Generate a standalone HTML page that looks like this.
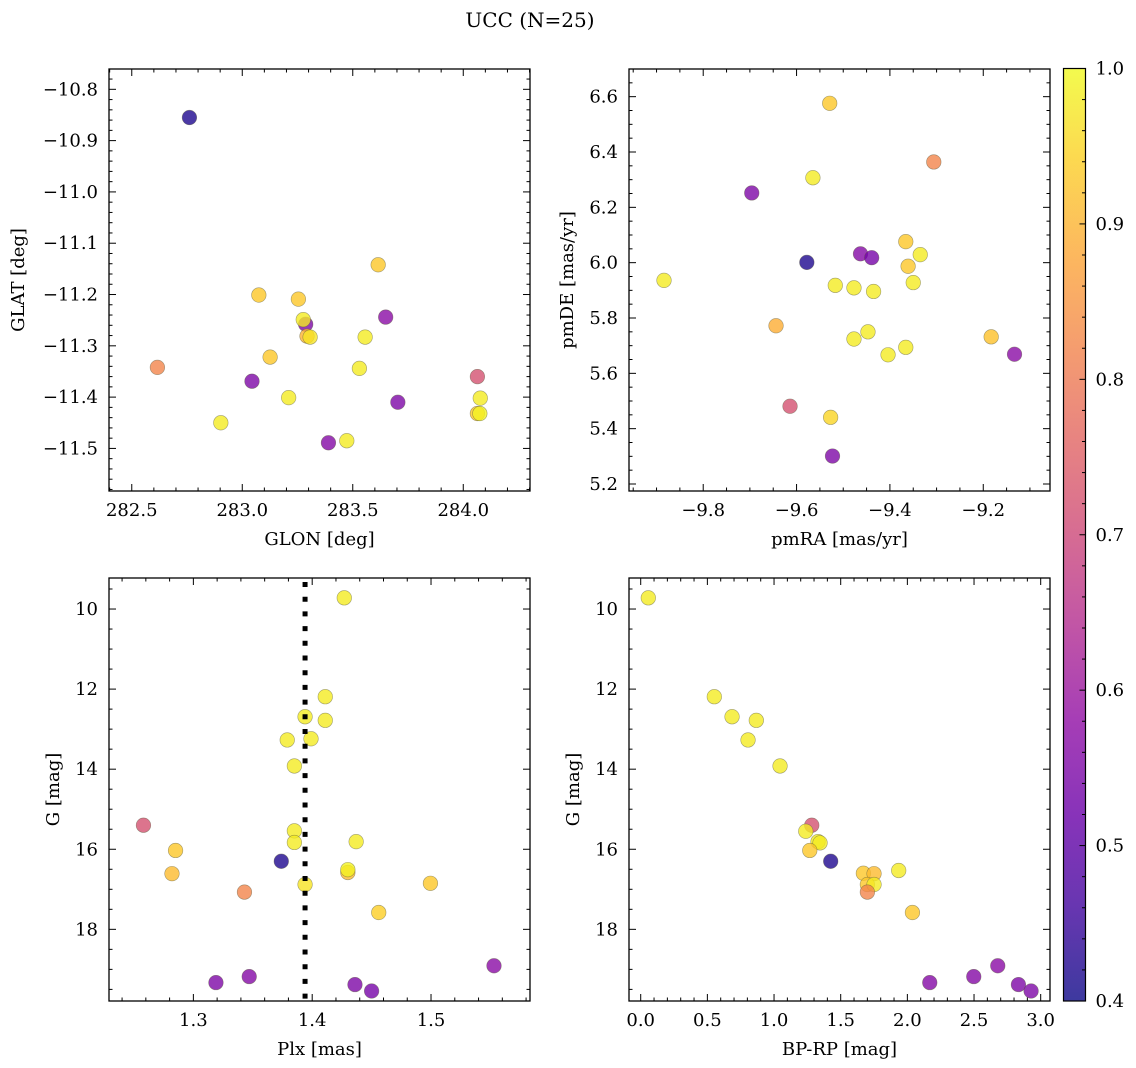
<!DOCTYPE html>
<html><head><meta charset="utf-8">
<style>
html,body{margin:0;padding:0;background:#fff;}
svg{display:block;font-family:"DejaVu Serif","Liberation Serif",serif;}
</style></head>
<body>
<svg id="fig" width="1136" height="1068" viewBox="0 0 1136 1068" xmlns="http://www.w3.org/2000/svg">
<rect x="0" y="0" width="1136" height="1068" fill="#fff"/>
<text x="530" y="27" font-size="20" text-anchor="middle" fill="#000">UCC (N=25)</text>
<defs>
<linearGradient id="plasmaGrad" x1="0" y1="1" x2="0" y2="0"></linearGradient>
</defs>
</svg>
<script>
// ---- Panel 1: GLON vs GLAT ----
const glonVals=[282.761,282.616,283.044,282.903,283.126,283.075,283.254,283.287,283.276,283.293,283.307,283.210,283.390,283.473,283.530,283.556,283.615,283.649,283.704,284.064,284.077,284.064,284.075];
const glatVals=[-10.855,-11.342,-11.369,-11.450,-11.322,-11.201,-11.209,-11.258,-11.249,-11.281,-11.283,-11.401,-11.489,-11.485,-11.344,-11.283,-11.142,-11.244,-11.410,-11.360,-11.402,-11.432,-11.432];
const probA=[0.42,0.82,0.55,0.98,0.93,0.93,0.93,0.55,0.98,0.9,0.97,0.98,0.56,0.98,0.98,0.98,0.93,0.57,0.55,0.72,0.98,0.93,0.99];
// ---- Panel 2: pmRA vs pmDE ----
const pmraVals=[-9.529,-9.306,-9.565,-9.696,-9.366,-9.335,-9.463,-9.439,-9.578,-9.361,-9.884,-9.350,-9.517,-9.477,-9.435,-9.644,-9.447,-9.477,-9.183,-9.366,-9.133,-9.404,-9.614,-9.527,-9.523];
const pmdeVals=[6.576,6.364,6.307,6.252,6.076,6.029,6.032,6.018,6.001,5.987,5.936,5.928,5.918,5.909,5.896,5.772,5.750,5.724,5.732,5.694,5.669,5.667,5.481,5.441,5.301];
const probB=[0.93,0.82,0.98,0.55,0.93,0.98,0.56,0.54,0.42,0.93,0.98,0.98,0.98,0.98,0.98,0.89,0.98,0.98,0.92,0.98,0.57,0.98,0.72,0.95,0.55];
// ---- Panel 3: Plx vs G ----
const plxVals=[1.427,1.411,1.394,1.411,1.379,1.399,1.385,1.258,1.385,1.385,1.437,1.285,1.374,1.430,1.430,1.282,1.394,1.4995,1.343,1.456,1.553,1.347,1.319,1.436,1.450];
const gVals3=[9.72,12.19,12.69,12.78,13.27,13.24,13.92,15.40,15.54,15.83,15.81,16.03,16.30,16.58,16.51,16.61,16.88,16.85,17.07,17.58,18.91,19.18,19.33,19.38,19.54];
const probC=[0.98,0.98,0.98,0.98,0.98,0.98,0.98,0.72,0.98,0.98,0.98,0.93,0.42,0.91,0.99,0.91,0.97,0.93,0.82,0.94,0.57,0.56,0.55,0.55,0.54];
const plxMean=[1.394];
// ---- Panel 4: BP-RP vs G ----
const bprpVals=[0.057,0.552,0.685,0.867,0.805,1.045,1.283,1.238,1.330,1.345,1.268,1.425,1.670,1.750,1.935,1.700,1.750,1.700,2.038,2.168,2.498,2.678,2.833,2.928];
const gVals4=[9.72,12.19,12.69,12.78,13.27,13.92,15.40,15.55,15.81,15.84,16.03,16.30,16.60,16.61,16.53,16.88,16.88,17.07,17.58,19.33,19.18,18.91,19.38,19.54];
const probD=[0.98,0.98,0.98,0.98,0.98,0.98,0.72,0.98,0.98,0.98,0.93,0.42,0.93,0.91,0.98,0.93,0.98,0.82,0.93,0.56,0.56,0.57,0.55,0.55];
// ---- tick labels ----
const ticksA_x=[282.5,283.0,283.5,284.0];
const ticksA_y=[-10.8,-10.9,-11.0,-11.1,-11.2,-11.3,-11.4,-11.5];
const ticksB_x=[-9.8,-9.6,-9.4,-9.2];
const ticksB_y=[5.2,5.4,5.6,5.8,6.0,6.2,6.4,6.6];
const ticksC_x=[1.3,1.4,1.5];
const ticksG=[10,12,14,16,18];
const ticksD_x=[0.0,0.5,1.0,1.5,2.0,2.5,3.0];
const ticksCbar=[0.4,0.5,0.6,0.7,0.8,0.9,1.0];

const NS="http://www.w3.org/2000/svg";
const svg=document.getElementById('fig');
const FS=18;
function el(tag,attrs,parent){const e=document.createElementNS(NS,tag);for(const k in attrs)e.setAttribute(k,attrs[k]);(parent||svg).appendChild(e);return e;}
const plasmaStops=["#0d0887","#41049d","#6a00a8","#8f0da4","#b12a90","#cc4778","#e16462","#f2844b","#fca636","#fcce25","#f0f921"];
function hex(h){return [parseInt(h.substr(1,2),16),parseInt(h.substr(3,2),16),parseInt(h.substr(5,2),16)];}
function plasma(t){t=Math.max(0,Math.min(1,t));const p=t*10;const i=Math.min(9,Math.floor(p));const f=p-i;const a=hex(plasmaStops[i]),b=hex(plasmaStops[i+1]);return 'rgb('+a.map((v,k)=>Math.round(v+(b[k]-v)*f)).join(',')+')';}
function cmap(c){return plasma((c-0.4)/0.6);}
function fmt(v,d){const s=Math.abs(v).toFixed(d);return (v<0?'\u2212':'')+s;}

function panel(name,box,xd,yd,xs,ys,xminor,yminor,xdec,ydec,xlabel,ylabel,ylabx,X,Y,C){
  const [L,T,R,B]=box;
  const g=el('g',{});
  
  
  const sx=v=>L+(v-xd[0])/(xd[1]-xd[0])*(R-L);
  const sy=v=>T+(v-yd[0])/(yd[1]-yd[0])*(B-T);
  const clip=el('clipPath',{id:'clip-'+name},g);
  el('rect',{x:L,y:T,width:R-L,height:B-T},clip);
  const pts=el('g',{'clip-path':'url(#clip-'+name+')'},g);
  
  
  for(let i=0;i<X.length;i++){
    const c=el('circle',{cx:sx(X[i]),cy:sy(Y[i]),r:7.3,fill:cmap(C[i]),'fill-opacity':0.8,stroke:'rgba(90,90,60,0.55)','stroke-width':0.6},pts);
    
    
  }
  const tg=el('g',{stroke:'#000','stroke-width':1},g);
  
  
  const xlo=Math.min(xd[0],xd[1]),xhi=Math.max(xd[0],xd[1]);
  for(let v=Math.ceil(xlo/xminor-1e-6)*xminor;v<=xhi+1e-9;v+=xminor){
    const x=sx(v);const major=xs.some(m=>Math.abs(m-v)<xminor/3);const len=major?7:3.5;
    el('line',{x1:x,y1:B,x2:x,y2:B-len},tg);el('line',{x1:x,y1:T,x2:x,y2:T+len},tg);
  }
  const ylo=Math.min(yd[0],yd[1]),yhi=Math.max(yd[0],yd[1]);
  for(let v=Math.ceil(ylo/yminor-1e-6)*yminor;v<=yhi+1e-9;v+=yminor){
    const y=sy(v);const major=ys.some(m=>Math.abs(m-v)<yminor/3);const len=major?7:3.5;
    el('line',{x1:L,y1:y,x2:L+len,y2:y},tg);el('line',{x1:R,y1:y,x2:R-len,y2:y},tg);
  }
  const fr=el('rect',{x:L,y:T,width:R-L,height:B-T,fill:'none',stroke:'#000','stroke-width':1.3},g);
  
  
  for(const v of xs){const t=el('text',{x:sx(v),y:B+25,'font-size':FS,'text-anchor':'middle'},g);t.textContent=fmt(v,xdec);
    
    }
  for(const v of ys){const t=el('text',{x:L-11,y:sy(v)+6,'font-size':FS,'text-anchor':'end'},g);t.textContent=fmt(v,ydec);
    
    }
  const xl=el('text',{x:(L+R)/2,y:B+54,'font-size':FS,'text-anchor':'middle'},g);xl.textContent=xlabel;
  
  
  const yl=el('text',{x:0,y:0,'font-size':FS,'text-anchor':'middle',transform:'translate('+ylabx+','+((T+B)/2)+') rotate(-90)'},g);yl.textContent=ylabel;
  
  
  return {g,sx,sy,T,B};
}

panel('panel-glon-glat',[109,69,530,491],[282.397,284.302],[-10.7604,-11.583],ticksA_x,ticksA_y,0.1,0.02,1,1,'GLON [deg]','GLAT [deg]',24,glonVals,glatVals,probA);
panel('panel-pm',[629,69,1050,491],[-9.959,-9.057],[6.700,5.1747],ticksB_x,ticksB_y,0.05,0.05,1,1,'pmRA [mas/yr]','pmDE [mas/yr]',573,pmraVals,pmdeVals,probB);
const p3=panel('panel-plx-g',[109,578,530,1001],[1.229,1.5833],[9.225,19.79],ticksC_x,ticksG,0.02,0.5,1,0,'Plx [mas]','G [mag]',59,plxVals,gVals3,probC);
panel('panel-cmd',[629,578,1050,1001],[-0.0878,3.0698],[9.225,19.79],ticksD_x,ticksG,0.1,0.5,1,0,'BP-RP [mag]','G [mag]',579,bprpVals,gVals4,probD);

for(const v of plxMean){
  const ln=el('line',{x1:p3.sx(v),y1:p3.T,x2:p3.sx(v),y2:p3.B,stroke:'#000','stroke-width':5,'stroke-dasharray':'5 9.7','stroke-dashoffset':-4});
  
  
}

const grad=document.getElementById('plasmaGrad');
for(let i=0;i<=20;i++){el('stop',{offset:(i/20),'stop-color':plasma(i/20),'stop-opacity':0.8},grad);}
const cbT=68.5,cbB=1001,cbL=1063.5,cbR=1085.5;
const cy=v=>cbB-(v-0.4)/0.6*(cbB-cbT);
const cb=el('g',{});


el('rect',{x:cbL,y:cbT,width:cbR-cbL,height:cbB-cbT,fill:'url(#plasmaGrad)'},cb);
for(let v=0.4;v<=1.0001;v+=0.02){
  const major=ticksCbar.some(m=>Math.abs(m-v)<0.005);
  el('line',{x1:cbR,y1:cy(v),x2:cbR-(major?6:3.5),y2:cy(v),stroke:'#000','stroke-width':1},cb);
}
el('rect',{x:cbL,y:cbT,width:cbR-cbL,height:cbB-cbT,fill:'none',stroke:'#000','stroke-width':1.2},cb);
for(const v of ticksCbar){
  const t=el('text',{x:cbR+10,y:cy(v)+6,'font-size':FS},cb);t.textContent=v.toFixed(1);
  
  
}
</script>
</body></html>
